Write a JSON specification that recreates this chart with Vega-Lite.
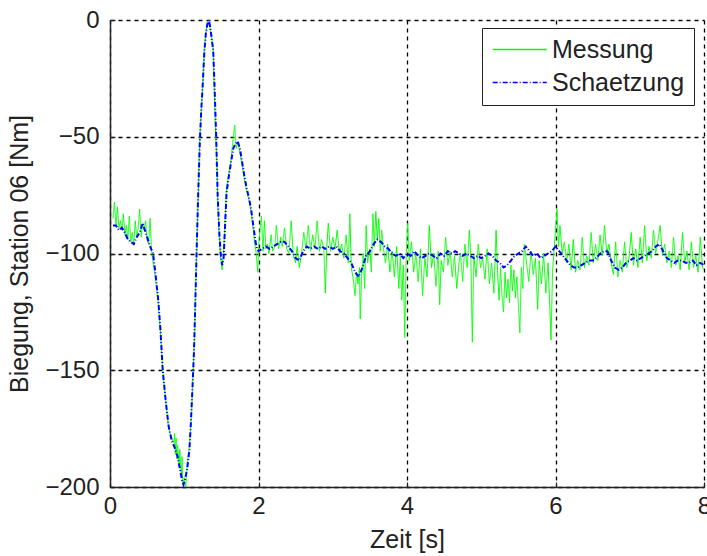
{
  "$schema": "https://vega.github.io/schema/vega-lite/v6.json",
  "width": 594,
  "height": 467,
  "autosize": {"type": "none"},
  "padding": {"left": 110, "top": 20, "right": 3, "bottom": 69},
  "background": "white",
  "config": {
    "view": {"stroke": null},
    "font": "Liberation Sans",
    "axis": {
      "domainColor": "#222222",
      "domainWidth": 1.5,
      "tickColor": "#222222",
      "tickWidth": 1.2,
      "tickSize": -5,
      "gridColor": "#000000",
      "gridOpacity": 1,
      "gridWidth": 1.3,
      "gridDash": [4, 4],
      "labelFont": "Liberation Sans",
      "labelFontSize": 24,
      "labelColor": "#222222",
      "titleFont": "Liberation Sans",
      "titleFontSize": 25,
      "titleFontWeight": "normal",
      "titleColor": "#222222"
    },
    "legend": {
      "orient": "none",
      "legendX": 372,
      "legendY": 8,
      "strokeColor": "#222222",
      "fillColor": "white",
      "padding": 9,
      "labelFont": "Liberation Sans",
      "labelFontSize": 25,
      "labelColor": "#222222",
      "labelOffset": 36,
      "symbolType": "M-1,0H4",
      "symbolSize": 467,
      "symbolStrokeWidth": 1.6,
      "rowPadding": 7,
      "title": null
    }
  },
  "datasets": {
    "mess": [
      {"t":0.04,"v":-85},{"t":0.06,"v":-78},{"t":0.08,"v":-88},{"t":0.10,"v":-80},{"t":0.12,"v":-89},{"t":0.14,"v":-86},{"t":0.16,"v":-90},{"t":0.18,"v":-83},{"t":0.20,"v":-92},{"t":0.22,"v":-88},{"t":0.24,"v":-94},{"t":0.26,"v":-84},{"t":0.28,"v":-95},{"t":0.30,"v":-91},{"t":0.32,"v":-96},{"t":0.34,"v":-86},{"t":0.36,"v":-93},{"t":0.38,"v":-89},{"t":0.40,"v":-81},{"t":0.42,"v":-93},{"t":0.44,"v":-87},{"t":0.46,"v":-90},{"t":0.48,"v":-86},{"t":0.50,"v":-94},{"t":0.52,"v":-96},{"t":0.54,"v":-85},{"t":0.56,"v":-99},{"t":0.58,"v":-104},
      {"t":0.61,"v":-110},{"t":0.65,"v":-121},{"t":0.68,"v":-134},{"t":0.71,"v":-150},{"t":0.75,"v":-163},{"t":0.79,"v":-175},{"t":0.83,"v":-179},{"t":0.86,"v":-181},{"t":0.87,"v":-177},{"t":0.88,"v":-186},{"t":0.89,"v":-179},{"t":0.90,"v":-188},{"t":0.91,"v":-182},{"t":0.93,"v":-190},{"t":0.94,"v":-184},{"t":0.96,"v":-195},{"t":0.97,"v":-187},{"t":0.98,"v":-199},{"t":1.00,"v":-196},{"t":1.02,"v":-200},{"t":1.04,"v":-190},{"t":1.06,"v":-185},{"t":1.08,"v":-178},{"t":1.10,"v":-167},{"t":1.12,"v":-150},{"t":1.14,"v":-135},{"t":1.15,"v":-118},{"t":1.17,"v":-95},{"t":1.19,"v":-74},{"t":1.21,"v":-50},{"t":1.23,"v":-38},{"t":1.25,"v":-28},{"t":1.27,"v":-13},{"t":1.29,"v":-6},{"t":1.31,"v":-1},{"t":1.33,"v":0},{"t":1.35,"v":-4},{"t":1.37,"v":-8},{"t":1.39,"v":-12},{"t":1.40,"v":-26},{"t":1.42,"v":-46},{"t":1.44,"v":-62},{"t":1.45,"v":-77},{"t":1.47,"v":-92},{"t":1.49,"v":-102},{"t":1.51,"v":-107},{"t":1.53,"v":-100},{"t":1.55,"v":-85},{"t":1.57,"v":-72},{"t":1.60,"v":-66},{"t":1.63,"v":-60},{"t":1.66,"v":-50},{"t":1.68,"v":-45},{"t":1.70,"v":-55},{"t":1.72,"v":-52},{"t":1.75,"v":-57},{"t":1.78,"v":-62},{"t":1.81,"v":-68},{"t":1.84,"v":-73},{"t":1.87,"v":-77},{"t":1.90,"v":-82},{"t":1.93,"v":-90},{"t":1.95,"v":-96},{"t":1.97,"v":-100},{"t":1.99,"v":-108},{"t":2.00,"v":-97},
      {"t":2.02,"v":-90},{"t":2.04,"v":-84},{"t":2.06,"v":-99},{"t":2.08,"v":-86},{"t":2.10,"v":-98},{"t":2.12,"v":-96},{"t":2.14,"v":-100},{"t":2.17,"v":-92},{"t":2.19,"v":-99},{"t":2.22,"v":-97},{"t":2.24,"v":-88},{"t":2.27,"v":-98},{"t":2.30,"v":-93},{"t":2.32,"v":-97},{"t":2.35,"v":-89},{"t":2.38,"v":-98},{"t":2.41,"v":-100},{"t":2.44,"v":-86},{"t":2.47,"v":-101},{"t":2.50,"v":-104},{"t":2.52,"v":-97},{"t":2.55,"v":-106},{"t":2.58,"v":-100},{"t":2.61,"v":-91},{"t":2.64,"v":-98},{"t":2.67,"v":-88},{"t":2.70,"v":-99},{"t":2.73,"v":-92},{"t":2.76,"v":-98},{"t":2.79,"v":-86},{"t":2.82,"v":-99},{"t":2.85,"v":-94},{"t":2.88,"v":-98},{"t":2.90,"v":-117},{"t":2.92,"v":-97},{"t":2.94,"v":-87},{"t":2.97,"v":-99},{"t":3.00,"v":-93},{"t":3.03,"v":-98},{"t":3.06,"v":-90},{"t":3.09,"v":-100},{"t":3.12,"v":-96},{"t":3.15,"v":-102},{"t":3.18,"v":-92},{"t":3.21,"v":-104},{"t":3.23,"v":-83},{"t":3.25,"v":-106},{"t":3.28,"v":-112},{"t":3.30,"v":-118},{"t":3.32,"v":-108},{"t":3.34,"v":-113},{"t":3.36,"v":-106},{"t":3.37,"v":-128},{"t":3.39,"v":-109},{"t":3.41,"v":-100},{"t":3.43,"v":-115},{"t":3.45,"v":-88},{"t":3.47,"v":-104},{"t":3.50,"v":-98},{"t":3.52,"v":-108},{"t":3.54,"v":-83},{"t":3.56,"v":-97},{"t":3.58,"v":-82},{"t":3.60,"v":-94},{"t":3.62,"v":-85},{"t":3.64,"v":-99},{"t":3.66,"v":-90},{"t":3.68,"v":-97},{"t":3.71,"v":-104},{"t":3.74,"v":-96},{"t":3.77,"v":-108},{"t":3.80,"v":-99},{"t":3.83,"v":-110},{"t":3.86,"v":-97},{"t":3.89,"v":-115},{"t":3.91,"v":-101},{"t":3.93,"v":-120},{"t":3.95,"v":-105},{"t":3.97,"v":-136},{"t":3.99,"v":-100},
      {"t":4.01,"v":-87},{"t":4.03,"v":-103},{"t":4.06,"v":-95},{"t":4.09,"v":-108},{"t":4.12,"v":-100},{"t":4.15,"v":-112},{"t":4.18,"v":-98},{"t":4.21,"v":-118},{"t":4.24,"v":-102},{"t":4.27,"v":-110},{"t":4.30,"v":-88},{"t":4.33,"v":-106},{"t":4.36,"v":-100},{"t":4.39,"v":-114},{"t":4.42,"v":-99},{"t":4.44,"v":-122},{"t":4.46,"v":-103},{"t":4.49,"v":-108},{"t":4.52,"v":-93},{"t":4.55,"v":-105},{"t":4.58,"v":-99},{"t":4.61,"v":-110},{"t":4.64,"v":-101},{"t":4.67,"v":-115},{"t":4.70,"v":-104},{"t":4.72,"v":-100},{"t":4.75,"v":-112},{"t":4.78,"v":-96},{"t":4.81,"v":-106},{"t":4.84,"v":-90},{"t":4.86,"v":-102},{"t":4.88,"v":-138},{"t":4.90,"v":-101},{"t":4.93,"v":-110},{"t":4.96,"v":-96},{"t":4.99,"v":-106},
      {"t":5.02,"v":-102},{"t":5.05,"v":-111},{"t":5.08,"v":-98},{"t":5.11,"v":-113},{"t":5.14,"v":-104},{"t":5.17,"v":-117},{"t":5.20,"v":-90},{"t":5.22,"v":-108},{"t":5.24,"v":-120},{"t":5.26,"v":-106},{"t":5.28,"v":-118},{"t":5.30,"v":-125},{"t":5.32,"v":-108},{"t":5.34,"v":-119},{"t":5.36,"v":-111},{"t":5.38,"v":-121},{"t":5.40,"v":-105},{"t":5.42,"v":-116},{"t":5.44,"v":-107},{"t":5.46,"v":-119},{"t":5.48,"v":-110},{"t":5.50,"v":-122},{"t":5.52,"v":-134},{"t":5.54,"v":-106},{"t":5.56,"v":-115},{"t":5.58,"v":-96},{"t":5.61,"v":-104},{"t":5.64,"v":-112},{"t":5.67,"v":-99},{"t":5.70,"v":-109},{"t":5.73,"v":-102},{"t":5.76,"v":-124},{"t":5.78,"v":-103},{"t":5.81,"v":-113},{"t":5.84,"v":-100},{"t":5.87,"v":-117},{"t":5.90,"v":-104},{"t":5.92,"v":-120},{"t":5.94,"v":-137},{"t":5.96,"v":-108},{"t":5.98,"v":-99},
      {"t":6.00,"v":-90},{"t":6.02,"v":-81},{"t":6.04,"v":-97},{"t":6.06,"v":-88},{"t":6.09,"v":-100},{"t":6.12,"v":-95},{"t":6.15,"v":-104},{"t":6.18,"v":-96},{"t":6.21,"v":-107},{"t":6.24,"v":-94},{"t":6.27,"v":-108},{"t":6.30,"v":-103},{"t":6.33,"v":-107},{"t":6.36,"v":-93},{"t":6.39,"v":-106},{"t":6.42,"v":-101},{"t":6.45,"v":-105},{"t":6.48,"v":-91},{"t":6.51,"v":-104},{"t":6.54,"v":-96},{"t":6.57,"v":-103},{"t":6.60,"v":-92},{"t":6.63,"v":-101},{"t":6.66,"v":-88},{"t":6.69,"v":-100},{"t":6.72,"v":-96},{"t":6.75,"v":-104},{"t":6.78,"v":-109},{"t":6.81,"v":-95},{"t":6.84,"v":-110},{"t":6.87,"v":-103},{"t":6.90,"v":-108},{"t":6.93,"v":-95},{"t":6.96,"v":-106},{"t":6.99,"v":-102},
      {"t":7.02,"v":-91},{"t":7.05,"v":-105},{"t":7.08,"v":-98},{"t":7.11,"v":-106},{"t":7.14,"v":-93},{"t":7.17,"v":-104},{"t":7.20,"v":-88},{"t":7.23,"v":-103},{"t":7.26,"v":-97},{"t":7.29,"v":-102},{"t":7.32,"v":-90},{"t":7.35,"v":-100},{"t":7.38,"v":-94},{"t":7.41,"v":-88},{"t":7.44,"v":-101},{"t":7.47,"v":-96},{"t":7.50,"v":-104},{"t":7.53,"v":-99},{"t":7.56,"v":-106},{"t":7.59,"v":-93},{"t":7.62,"v":-105},{"t":7.65,"v":-101},{"t":7.68,"v":-107},{"t":7.71,"v":-91},{"t":7.74,"v":-104},{"t":7.77,"v":-99},{"t":7.80,"v":-107},{"t":7.83,"v":-95},{"t":7.86,"v":-106},{"t":7.89,"v":-101},{"t":7.92,"v":-108},{"t":7.95,"v":-93},{"t":7.98,"v":-106},{"t":8.00,"v":-107}
    ],
    "schaetz": [
      {"t":0.04,"v":-88},{"t":0.08,"v":-88},{"t":0.12,"v":-90},{"t":0.16,"v":-89},{"t":0.20,"v":-91},{"t":0.24,"v":-94},{"t":0.28,"v":-95},{"t":0.32,"v":-96},{"t":0.36,"v":-93},{"t":0.40,"v":-91},{"t":0.44,"v":-87},{"t":0.47,"v":-90},{"t":0.50,"v":-93},{"t":0.54,"v":-97},{"t":0.58,"v":-100},
      {"t":0.61,"v":-108},{"t":0.65,"v":-120},{"t":0.68,"v":-133},{"t":0.71,"v":-150},{"t":0.75,"v":-163},{"t":0.79,"v":-174},{"t":0.83,"v":-180},{"t":0.87,"v":-183},{"t":0.91,"v":-187},{"t":0.94,"v":-192},{"t":0.97,"v":-197},{"t":0.99,"v":-199},{"t":1.01,"v":-197},{"t":1.04,"v":-192},{"t":1.07,"v":-184},{"t":1.09,"v":-172},{"t":1.11,"v":-158},{"t":1.13,"v":-143},{"t":1.15,"v":-120},{"t":1.17,"v":-95},{"t":1.19,"v":-72},{"t":1.21,"v":-52},{"t":1.23,"v":-38},{"t":1.25,"v":-27},{"t":1.27,"v":-14},{"t":1.29,"v":-6},{"t":1.31,"v":-2},{"t":1.33,"v":0},{"t":1.35,"v":-3},{"t":1.37,"v":-8},{"t":1.39,"v":-13},{"t":1.41,"v":-30},{"t":1.43,"v":-50},{"t":1.45,"v":-75},{"t":1.47,"v":-90},{"t":1.49,"v":-100},{"t":1.51,"v":-105},{"t":1.53,"v":-102},{"t":1.55,"v":-88},{"t":1.57,"v":-74},{"t":1.60,"v":-67},{"t":1.63,"v":-61},{"t":1.66,"v":-55},{"t":1.69,"v":-53},{"t":1.72,"v":-52},{"t":1.75,"v":-55},{"t":1.78,"v":-61},{"t":1.81,"v":-67},{"t":1.84,"v":-72},{"t":1.87,"v":-76},{"t":1.90,"v":-81},{"t":1.93,"v":-88},{"t":1.96,"v":-95},{"t":1.98,"v":-98},{"t":2.00,"v":-99},
      {"t":2.05,"v":-98},{"t":2.10,"v":-97},{"t":2.15,"v":-98},{"t":2.20,"v":-97},{"t":2.25,"v":-96},{"t":2.30,"v":-95},{"t":2.35,"v":-95},{"t":2.40,"v":-97},{"t":2.45,"v":-99},{"t":2.50,"v":-102},{"t":2.55,"v":-103},{"t":2.60,"v":-99},{"t":2.65,"v":-97},{"t":2.70,"v":-98},{"t":2.75,"v":-97},{"t":2.80,"v":-98},{"t":2.85,"v":-97},{"t":2.90,"v":-98},{"t":2.95,"v":-97},{"t":3.00,"v":-98},{"t":3.05,"v":-97},{"t":3.10,"v":-99},{"t":3.15,"v":-100},{"t":3.20,"v":-102},{"t":3.25,"v":-104},{"t":3.30,"v":-108},{"t":3.35,"v":-110},{"t":3.40,"v":-106},{"t":3.45,"v":-101},{"t":3.50,"v":-99},{"t":3.55,"v":-96},{"t":3.60,"v":-94},{"t":3.65,"v":-95},{"t":3.70,"v":-97},{"t":3.75,"v":-98},{"t":3.80,"v":-100},{"t":3.85,"v":-101},{"t":3.90,"v":-100},{"t":3.95,"v":-102},
      {"t":4.00,"v":-100},{"t":4.05,"v":-101},{"t":4.10,"v":-99},{"t":4.15,"v":-101},{"t":4.20,"v":-102},{"t":4.25,"v":-101},{"t":4.30,"v":-100},{"t":4.35,"v":-101},{"t":4.40,"v":-102},{"t":4.45,"v":-100},{"t":4.50,"v":-101},{"t":4.55,"v":-99},{"t":4.60,"v":-100},{"t":4.65,"v":-99},{"t":4.70,"v":-100},{"t":4.75,"v":-101},{"t":4.80,"v":-100},{"t":4.85,"v":-101},{"t":4.90,"v":-102},{"t":4.95,"v":-101},
      {"t":5.00,"v":-102},{"t":5.05,"v":-101},{"t":5.10,"v":-100},{"t":5.15,"v":-101},{"t":5.20,"v":-103},{"t":5.25,"v":-104},{"t":5.30,"v":-106},{"t":5.35,"v":-105},{"t":5.40,"v":-103},{"t":5.45,"v":-101},{"t":5.50,"v":-100},{"t":5.55,"v":-99},{"t":5.60,"v":-97},{"t":5.65,"v":-99},{"t":5.70,"v":-101},{"t":5.75,"v":-100},{"t":5.80,"v":-102},{"t":5.85,"v":-101},{"t":5.90,"v":-100},{"t":5.95,"v":-99},
      {"t":6.00,"v":-97},{"t":6.05,"v":-99},{"t":6.10,"v":-101},{"t":6.15,"v":-103},{"t":6.20,"v":-105},{"t":6.25,"v":-106},{"t":6.30,"v":-106},{"t":6.35,"v":-105},{"t":6.40,"v":-104},{"t":6.45,"v":-103},{"t":6.50,"v":-103},{"t":6.55,"v":-102},{"t":6.60,"v":-100},{"t":6.65,"v":-99},{"t":6.70,"v":-99},{"t":6.75,"v":-103},{"t":6.80,"v":-106},{"t":6.85,"v":-107},{"t":6.90,"v":-106},{"t":6.95,"v":-104},
      {"t":7.00,"v":-103},{"t":7.05,"v":-102},{"t":7.10,"v":-103},{"t":7.15,"v":-102},{"t":7.20,"v":-101},{"t":7.25,"v":-100},{"t":7.30,"v":-99},{"t":7.35,"v":-97},{"t":7.40,"v":-96},{"t":7.45,"v":-99},{"t":7.50,"v":-102},{"t":7.55,"v":-103},{"t":7.60,"v":-104},{"t":7.65,"v":-103},{"t":7.70,"v":-103},{"t":7.75,"v":-104},{"t":7.80,"v":-104},{"t":7.85,"v":-103},{"t":7.90,"v":-105},{"t":7.95,"v":-104},{"t":8.00,"v":-105}
    ]
  },
  "encoding": {
    "x": {
      "field": "t", "type": "quantitative",
      "scale": {"domain": [0, 8], "nice": false, "zero": false},
      "axis": {"values": [0, 2, 4, 6, 8], "title": "Zeit [s]", "labelPadding": 12, "titlePadding": 9, "labelFlush": false}
    },
    "y": {
      "field": "v", "type": "quantitative",
      "scale": {"domain": [-200, 0], "nice": false, "zero": false},
      "axis": {"values": [0, -50, -100, -150, -200], "title": "Biegung, Station 06 [Nm]", "labelPadding": 16, "titlePadding": 12, "labelFlush": false}
    }
  },
  "layer": [
    {
      "data": {"name": "mess"},
      "mark": {"type": "line", "strokeWidth": 1, "clip": true},
      "encoding": {
        "color": {"datum": "Messung", "type": "nominal", "scale": {"domain": ["Messung", "Schaetzung"], "range": ["#00ff00", "#0000ff"]}},
        "strokeDash": {"datum": "Messung", "type": "nominal", "scale": {"domain": ["Messung", "Schaetzung"], "range": [[1, 0], [5, 2, 1, 2]]}}
      }
    },
    {
      "data": {"name": "schaetz"},
      "mark": {"type": "line", "strokeWidth": 2, "clip": true},
      "encoding": {
        "color": {"datum": "Schaetzung", "type": "nominal"},
        "strokeDash": {"datum": "Schaetzung", "type": "nominal"}
      }
    }
  ]
}
